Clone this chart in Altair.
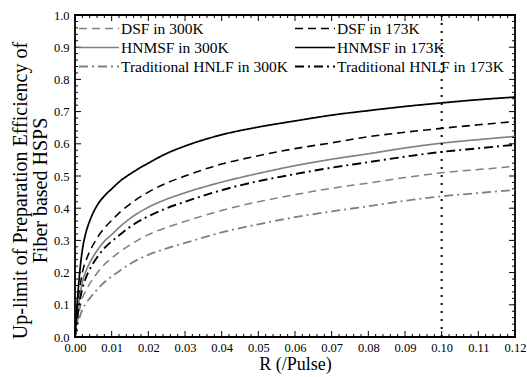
import altair as alt
import pandas as pd

# ---- data ----
R = [0, 0.0005, 0.001, 0.002, 0.003, 0.004, 0.006, 0.008, 0.01, 0.0125, 0.015,
     0.02, 0.025, 0.03, 0.04, 0.05, 0.06, 0.07, 0.08, 0.09, 0.10, 0.11, 0.12]

dsf_300 = [0, 0.035, 0.07, 0.12, 0.145, 0.165, 0.198, 0.225, 0.245, 0.267, 0.286,
           0.318, 0.34, 0.359, 0.393, 0.42, 0.442, 0.462, 0.478, 0.495, 0.51, 0.52, 0.53]
dsf_173 = [0, 0.06, 0.12, 0.2, 0.238, 0.265, 0.307, 0.338, 0.362, 0.39, 0.413,
           0.45, 0.478, 0.5, 0.537, 0.563, 0.585, 0.603, 0.622, 0.636, 0.648, 0.659, 0.669]
hnmsf_300 = [0, 0.05, 0.1, 0.17, 0.205, 0.23, 0.268, 0.297, 0.318, 0.345, 0.368,
             0.403, 0.428, 0.448, 0.481, 0.508, 0.532, 0.552, 0.569, 0.587, 0.602, 0.613, 0.623]
hnmsf_173 = [0, 0.09, 0.165, 0.27, 0.325, 0.36, 0.408, 0.438, 0.46, 0.486, 0.506,
             0.54, 0.57, 0.593, 0.628, 0.652, 0.671, 0.689, 0.703, 0.716, 0.727, 0.737, 0.745]
hnlf_300 = [0, 0.025, 0.05, 0.085, 0.105, 0.12, 0.147, 0.17, 0.188, 0.208, 0.227,
            0.255, 0.275, 0.292, 0.325, 0.35, 0.372, 0.39, 0.406, 0.423, 0.437, 0.447, 0.457]
hnlf_173 = [0, 0.045, 0.09, 0.15, 0.185, 0.21, 0.247, 0.276, 0.297, 0.32, 0.342,
            0.375, 0.4, 0.42, 0.456, 0.484, 0.506, 0.526, 0.543, 0.56, 0.575, 0.586, 0.597]

series_names = ["DSF in 300K", "DSF in 173K", "HNMSF in 300K", "HNMSF in 173K",
                "Traditional HNLF in 300K", "Traditional HNLF in 173K"]
series_values = [dsf_300, dsf_173, hnmsf_300, hnmsf_173, hnlf_300, hnlf_173]

marker_R = [0.10]

x_major = [i / 100 for i in range(13)]
x_minor = [round(i * 0.002, 4) for i in range(61) if i % 5 != 0]
y_major = [i / 10 for i in range(11)]
y_minor = [round(i * 0.02, 4) for i in range(51) if i % 5 != 0]

# ---- styles ----
colors = ["#808080", "#000000", "#808080", "#000000", "#808080", "#000000"]
dashes = [[8, 5], [8, 5], [1, 0], [1, 0], [9, 4, 2, 4], [9, 4, 2, 4]]
widths = [1.5, 1.9, 1.5, 1.9, 1.5, 1.9]

W, H = 440, 322
FONT = "Liberation Serif"

rows = []
for name, vals in zip(series_names, series_values):
    for r, v in zip(R, vals):
        rows.append({"R": r, "eff": v, "series": name})
df = pd.DataFrame(rows)

xscale = alt.Scale(domain=[0, 0.12], nice=False, zero=False)
yscale = alt.Scale(domain=[0, 1.0], nice=False)

x_axis = alt.Axis(values=x_major, format=".2f", ticks=False, domain=False, grid=False,
                  labelFlush=False, labelOverlap=False,
                  labelPadding=4, labelFontSize=12.5, labelFont=FONT, labelColor="black",
                  title="R (/Pulse)", titleFontSize=18, titleFont=FONT, titleFontWeight="normal",
                  titleColor="black", titlePadding=2)
y_axis = alt.Axis(values=y_major, format=".1f", ticks=False, domain=False, grid=False,
                  labelFlush=False, labelOverlap=False,
                  labelPadding=6, labelFontSize=12.5, labelFont=FONT, labelColor="black",
                  title=["Up-limit of Preparation Efficiency of", "Fiber based HSPS"],
                  titleFontSize=20, titleFont=FONT, titleFontWeight="normal",
                  titleColor="black", titlePadding=3, titleLineHeight=20, titleY=175)

lines = alt.Chart(df).mark_line(interpolate="monotone").encode(
    x=alt.X("R:Q", scale=xscale, axis=x_axis),
    y=alt.Y("eff:Q", scale=yscale, axis=y_axis),
    color=alt.Color("series:N", scale=alt.Scale(domain=series_names, range=colors),
                    sort=series_names,
                    legend=alt.Legend(title=None, orient="none", legendX=3, legendY=4,
                                      columns=2, symbolType="stroke", symbolSize=1600,
                                      symbolStrokeWidth=1.7, labelFont=FONT, labelFontSize=15.5,
                                      labelColor="black", labelOffset=1, columnPadding=6,
                                      rowPadding=0, clipHeight=19, padding=0,
                                      labelLimit=400, direction="horizontal")),
    strokeDash=alt.StrokeDash("series:N", scale=alt.Scale(domain=series_names, range=dashes),
                              sort=series_names),
    strokeWidth=alt.StrokeWidth("series:N", scale=alt.Scale(domain=series_names, range=widths),
                                legend=None),
    order=alt.Order("R:Q"),
)

vline = alt.Chart(pd.DataFrame({"R": marker_R})).mark_rule(
    color="black", strokeDash=[2, 6], strokeWidth=2
).encode(x=alt.X("R:Q", scale=xscale, axis=x_axis))


def ticks(values, channel, side, length):
    d = pd.DataFrame({"v": values})
    m = alt.Chart(d).mark_rule(color="black", strokeWidth=1)
    if channel == "x":
        if side == "bottom":
            enc = dict(y=alt.value(H), y2=alt.value(H - length))
        else:
            enc = dict(y=alt.value(0), y2=alt.value(length))
        return m.encode(x=alt.X("v:Q", scale=xscale, axis=x_axis), **enc)
    else:
        if side == "left":
            enc = dict(x=alt.value(0), x2=alt.value(length))
        else:
            enc = dict(x=alt.value(W), x2=alt.value(W - length))
        return m.encode(y=alt.Y("v:Q", scale=yscale, axis=y_axis), **enc)


tick_layers = [
    ticks(x_major, "x", "bottom", 6), ticks(x_minor, "x", "bottom", 3),
    ticks(x_major, "x", "top", 6), ticks(x_minor, "x", "top", 3),
    ticks(y_major, "y", "left", 6), ticks(y_minor, "y", "left", 3),
    ticks(y_major, "y", "right", 6), ticks(y_minor, "y", "right", 3),
]

chart = alt.layer(lines, vline, *tick_layers).properties(
    width=W, height=H,
    autosize=alt.AutoSizeParams(type="none"),
    padding={"left": 75, "top": 15, "right": 12, "bottom": 40},
    background="white",
).configure(font=FONT
).configure_view(stroke="black", strokeWidth=1.8
).configure_axis(labelFont=FONT, titleFont=FONT
).configure_legend(labelFont=FONT)

chart.save("out.html", embed_options={"renderer": "svg", "actions": False})
